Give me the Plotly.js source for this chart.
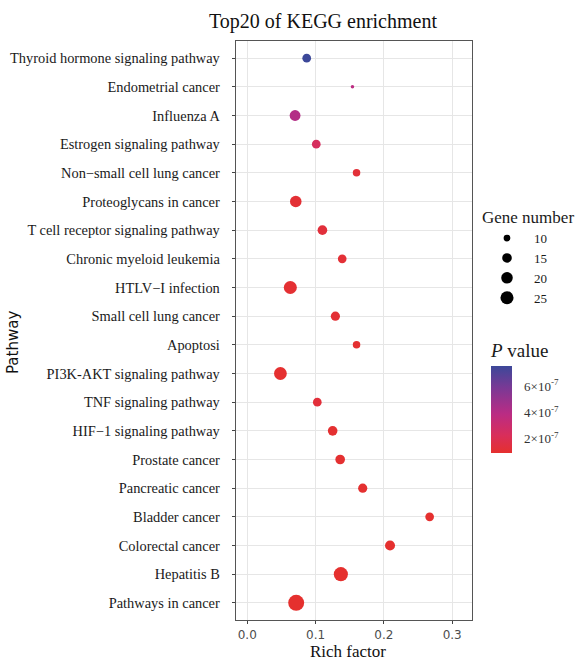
<!DOCTYPE html>
<html>
<head>
<meta charset="utf-8">
<script src="https://cdn.plot.ly/plotly-3.0.1.min.js"></script>
<style>html,body{margin:0;padding:0;background:#fff;}#chart{width:580px;height:662px;}</style>
</head>
<body>
<div id="chart"></div>
<script>
// Pathways listed top to bottom
const pathways = [
  "Thyroid hormone signaling pathway",
  "Endometrial cancer",
  "Influenza A",
  "Estrogen signaling pathway",
  "Non\u2212small cell lung cancer",
  "Proteoglycans in cancer",
  "T cell receptor signaling pathway",
  "Chronic myeloid leukemia",
  "HTLV\u2212I infection",
  "Small cell lung cancer",
  "Apoptosi",
  "PI3K-AKT signaling pathway",
  "TNF signaling pathway",
  "HIF\u22121 signaling pathway",
  "Prostate cancer",
  "Pancreatic cancer",
  "Bladder cancer",
  "Colorectal cancer",
  "Hepatitis B",
  "Pathways in cancer"
];
const richFactor = [0.087, 0.154, 0.070, 0.101, 0.160, 0.071, 0.110, 0.139, 0.063, 0.129,
                    0.160, 0.0485, 0.1025, 0.125, 0.136, 0.169, 0.267, 0.209, 0.137, 0.0716];
const geneNumber = [13, 8, 18, 13, 11, 20, 15, 13, 25, 14,
                    11, 24, 13, 15, 15, 14, 13, 16, 29, 37];
const pValue = [7.55e-7, 3.8e-7, 4.1e-7, 2.4e-7, 1.2e-7, 1.1e-7, 1.3e-7, 1.15e-7, 1.05e-7, 1.1e-7,
                1.0e-7, 0.95e-7, 1.25e-7, 1.0e-7, 0.98e-7, 0.96e-7, 0.93e-7, 0.92e-7, 0.91e-7, 0.9e-7];

const sizeLegendValues = [10, 15, 20, 25];
const pTickValues = [2e-7, 4e-7, 6e-7];
const pTickLabels = ["2\u00d710<sup>-7</sup>", "4\u00d710<sup>-7</sup>", "6\u00d710<sup>-7</sup>"];
const xTickValues = [0, 0.1, 0.2, 0.3];
const xTickLabels = ["0.0", "0.1", "0.2", "0.3"];

// size scale (area-like, as in ggplot scale_size)
const nMin = Math.min(...geneNumber), nMax = Math.max(...geneNumber);
const dMin = 3.5, dMax = 16;
function sizeOf(n) { return dMin + (dMax - dMin) * Math.sqrt((n - nMin) / (nMax - nMin)); }

const SERIF = "Liberation Serif, Times New Roman, serif";
const SANS = "DejaVu Sans, sans-serif";

// plot area in pixels
const L = 236, R = 472, T = 41, B = 620, W = 580, H = 662;
const px2x = p => (p - L) / (R - L);
const px2y = p => (B - p) / (B - T);

const traces = [{
  type: "scatter", mode: "markers",
  x: richFactor, y: pathways,
  showlegend: false, hoverinfo: "x+y",
  marker: {
    size: geneNumber.map(sizeOf), sizemode: "diameter", opacity: 1,
    color: pValue,
    colorscale: [[0, "#E5302E"], [0.2, "#D92E5A"], [0.45, "#BA2C84"], [0.75, "#7A3995"], [1, "#3C4899"]],
    line: {width: 0},
    showscale: true,
    colorbar: {
      title: {text: "<i>P</i> value", side: "top", font: {family: SERIF, size: 19, color: "#1a1a1a"}},
      tickvals: pTickValues, ticktext: pTickLabels,
      tickfont: {family: SERIF, size: 13, color: "#333"},
      ticks: "outside", ticklen: 10, tickcolor: "rgba(255,255,255,0)", tickwidth: 1,
      thickness: 21, thicknessmode: "pixels",
      len: 113, lenmode: "pixels",
      x: px2x(491), xanchor: "left", xpad: 0,
      y: px2y(340), yanchor: "top", ypad: 0,
      outlinewidth: 0
    }
  }
}];

sizeLegendValues.forEach(v => {
  traces.push({
    type: "scatter", mode: "markers",
    x: [null], y: [null], name: String(v),
    showlegend: true, legendgroup: "size", hoverinfo: "skip",
    marker: {size: sizeOf(v), color: "#000000", opacity: 1, line: {width: 0}}
  });
});

const layout = {
  width: W, height: H,
  margin: {l: L, r: W - R, t: T, b: H - B, pad: 0, autoexpand: false},
  paper_bgcolor: "#ffffff", plot_bgcolor: "#ffffff",
  title: {
    text: "Top20 of KEGG enrichment",
    font: {family: SERIF, size: 20, color: "#111"},
    xref: "container", yref: "container",
    x: 323 / W, xanchor: "center", y: 1 - 21 / H, yanchor: "middle"
  },
  xaxis: {
    range: [-0.0165, 0.329],
    tickvals: xTickValues, ticktext: xTickLabels,
    tickfont: {family: SANS, size: 12, color: "#4D4D4D"},
    ticks: "outside", ticklen: 3, tickcolor: "#444", tickwidth: 1,
    showgrid: true, gridcolor: "#E6E6E6", gridwidth: 1,
    zeroline: false,
    showline: true, mirror: true, linecolor: "#555", linewidth: 1.3,
    title: {text: ""}
  },
  yaxis: {
    type: "category", categoryorder: "array", categoryarray: pathways,
    range: [pathways.length - 0.4, -0.6],
    tickfont: {family: SERIF, size: 14.4, color: "#1a1a1a"},
    ticks: "outside", ticklen: 3, tickcolor: "#444", tickwidth: 1,
    ticklabelstandoff: 9,
    showgrid: true, gridcolor: "#E6E6E6", gridwidth: 1,
    zeroline: false,
    showline: true, mirror: true, linecolor: "#555", linewidth: 1.3,
    title: {text: ""}
  },
  legend: {
    title: {text: "Gene number", font: {family: SERIF, size: 17, color: "#1a1a1a"}},
    font: {family: SERIF, size: 13, color: "#1a1a1a"},
    x: px2x(480), xanchor: "left",
    y: px2y(201), yanchor: "top",
    bgcolor: "rgba(0,0,0,0)", borderwidth: 0,
    itemwidth: 44, tracegroupgap: 0,
    itemclick: false, itemdoubleclick: false
  },
  annotations: [
    {text: "Rich factor", xref: "paper", yref: "paper", x: px2x(348), y: px2y(652),
     xanchor: "center", yanchor: "middle", showarrow: false,
     font: {family: SERIF, size: 17, color: "#111"}},
    {text: "Pathway", xref: "paper", yref: "paper", x: px2x(13), y: px2y(343),
     xanchor: "center", yanchor: "middle", textangle: -90, showarrow: false,
     font: {family: SANS, size: 15, color: "#111"}}
  ]
};

Plotly.newPlot("chart", traces, layout, {displayModeBar: false, staticPlot: true});
</script>
</body>
</html>
